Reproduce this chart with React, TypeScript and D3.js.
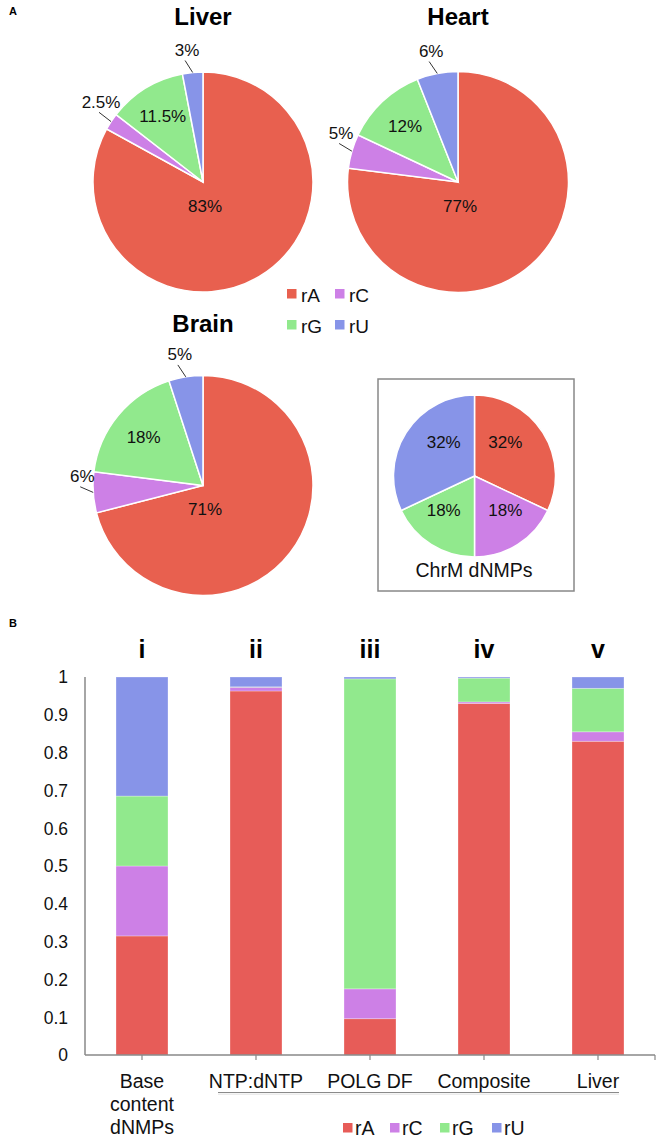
import React from "react";
import * as d3 from "d3";

// pie data (percent), order rA, rC, rG, rU
const bases = ["rA", "rC", "rG", "rU"];
const liverPct = [83, 2.5, 11.5, 3];
const heartPct = [77, 5, 12, 6];
const brainPct = [71, 6, 18, 5];
const chrmPct = [32, 18, 18, 32];

// stacked bars (fraction)
const barRoman = ["i", "ii", "iii", "iv", "v"];
const barLabels = ["Base\ncontent\ndNMPs", "NTP:dNTP", "POLG DF", "Composite", "Liver"];
const barA = [0.315, 0.963, 0.096, 0.93, 0.83];
const barC = [0.185, 0.01, 0.079, 0.004, 0.025];
const barG = [0.185, 0.001, 0.82, 0.063, 0.115];
const barU = [0.315, 0.026, 0.005, 0.003, 0.03];
const yTicks = [0, 0.1, 0.2, 0.3, 0.4, 0.5, 0.6, 0.7, 0.8, 0.9, 1];

const pieColors = ["#E8604F", "#CD80E6", "#91E98D", "#8794E8"];
const barColors = ["#E75C58", "#CD80E6", "#91E98D", "#8794E8"];
const FONT = "'Liberation Sans', Arial, Helvetica, sans-serif";

type PieProps = {
  values: number[];
  cx: number;
  cy: number;
  r: number;
  mode?: "normal" | "quadrant";
};

const Pie: React.FC<PieProps> = ({ values, cx, cy, r, mode = "normal" }) => {
  const arcs = d3.pie<number>().sort(null).value(d => d)(values);
  const arc = d3.arc<d3.PieArcDatum<number>>().innerRadius(0).outerRadius(r);
  const fs = 17;
  return (
    <g>
      <g transform={`translate(${cx},${cy})`}>
        {arcs.map((a, i) => (
          <path key={i} d={arc(a) || ""} fill={pieColors[i]} stroke="#fff" strokeWidth={1.5} />
        ))}
      </g>
      {arcs.map((a, i) => {
        const mid = (a.startAngle + a.endAngle) / 2;
        const s = Math.sin(mid), c = Math.cos(mid);
        const txt = `${a.data}%`;
        if (mode === "quadrant") {
          const lx = cx + Math.sign(s) * 0.38 * r;
          const ly = cy - Math.sign(c) * 0.42 * r;
          return (
            <text key={i} x={lx} y={ly + fs * 0.36} textAnchor="middle" fontSize={fs} fontFamily={FONT} fill="#111">{txt}</text>
          );
        }
        if (a.data < 10) {
          // small slice: outside label with a short leader
          const ex = cx + s * r, ey = cy - c * r;
          const tx = ex + s * 6 - 7, ty = ey - c * 6 - 6;
          return (
            <g key={i}>
              <line x1={ex} y1={ey} x2={tx} y2={ty} stroke="#333" strokeWidth={1} />
              <text x={tx + 2} y={ty - 4.5} textAnchor="middle" fontSize={fs} fontFamily={FONT} fill="#111">{txt}</text>
            </g>
          );
        }
        let lx: number, ly: number;
        if (a.data > 50) {
          lx = cx + 2;
          ly = cy + 0.215 * r;
        } else {
          lx = cx + s * 0.7 * r;
          ly = cy - c * 0.7 * r;
        }
        return (
          <text key={i} x={lx} y={ly + fs * 0.36} textAnchor="middle" fontSize={fs} fontFamily={FONT} fill="#111">{txt}</text>
        );
      })}
    </g>
  );
};

const App: React.FC = () => {
  // panel B scales
  const x = d3.scaleBand().domain(barLabels).range([85, 655]).paddingInner(0.544).paddingOuter(0.272);
  const y = d3.scaleLinear().domain([0, 1]).range([1055, 677]);
  const table = barLabels.map((cat, i) => ({ cat, rA: barA[i], rC: barC[i], rG: barG[i], rU: barU[i] }));
  const series = d3.stack<any>().keys(bases)(table);
  const bw = x.bandwidth();
  const center = (c: string) => (x(c) || 0) + bw / 2;
  const brX1 = (x("NTP:dNTP") || 0) - 12;
  const brX2 = (x("Liver") || 0) + bw - 5;

  return (
    <svg width={661} height={1142} style={{ position: "absolute", left: 0, top: 0, background: "#fff" }} fontFamily={FONT}>
      <rect width={661} height={1142} fill="#fff" />

      {/* Panel A */}
      <text x={9} y={15} fontSize={11} fontWeight="bold">A</text>
      <text x={203} y={25} textAnchor="middle" fontSize={24} fontWeight="bold">Liver</text>
      <text x={458} y={25} textAnchor="middle" fontSize={24} fontWeight="bold">Heart</text>
      <text x={203} y={332} textAnchor="middle" fontSize={24} fontWeight="bold">Brain</text>

      <Pie values={liverPct} cx={203} cy={182} r={110} />
      <Pie values={heartPct} cx={458} cy={182} r={110.5} />
      <Pie values={brainPct} cx={203} cy={485.5} r={110} />

      {/* legend between pies */}
      {bases.map((b, i) => {
        const lx = 287 + (i % 2) * 48;
        const ly = 289 + Math.floor(i / 2) * 31;
        return (
          <g key={b}>
            <rect x={lx} y={ly} width={9.5} height={9.5} fill={pieColors[i]} />
            <text x={lx + 14} y={ly + 12.5} fontSize={19} fill="#111">{b}</text>
          </g>
        );
      })}

      {/* ChrM box */}
      <rect x={378} y={379} width={196} height={212} fill="#fff" stroke="#888" strokeWidth={1.5} />
      <Pie values={chrmPct} cx={474.5} cy={476} r={81} mode="quadrant" />
      <text x={474} y={577} textAnchor="middle" fontSize={19.5} fill="#111">ChrM dNMPs</text>

      {/* Panel B */}
      <text x={9} y={627} fontSize={11} fontWeight="bold">B</text>
      {barLabels.map((c, i) => (
        <text key={c} x={center(c)} y={658} textAnchor="middle" fontSize={25} fontWeight="bold">{barRoman[i]}</text>
      ))}

      {series.map((s, k) => (
        <g key={s.key} fill={barColors[k]}>
          {s.map((d, i) => (
            <rect
              key={i}
              x={x(d.data.cat)}
              y={y(d[1])}
              width={bw}
              height={Math.max(0, y(d[0]) - y(d[1]))}
              stroke="#fff"
              strokeOpacity={0.35}
              strokeWidth={0.8}
            />
          ))}
        </g>
      ))}

      {/* axes */}
      <line x1={85} x2={85} y1={y(0)} y2={y(1)} stroke="#888" strokeWidth={1.5} />
      <line x1={85} x2={655} y1={y(0)} y2={y(0)} stroke="#888" strokeWidth={1.5} />
      {[...barLabels.map(center), 655].map((tx, i) => (
        <line key={i} x1={tx} x2={tx} y1={y(0)} y2={y(0) + 5} stroke="#888" strokeWidth={1.2} />
      ))}
      {yTicks.map(t => (
        <text key={t} x={68} y={y(t) + 6.3} textAnchor="end" fontSize={17.5} fill="#111">{String(t)}</text>
      ))}

      {barLabels.map(c => (
        <text key={c} textAnchor="middle" fontSize={19.5} fill="#111">
          {c.split("\n").map((ln, j) => (
            <tspan key={j} x={center(c)} y={1088 + j * 23}>{ln}</tspan>
          ))}
        </text>
      ))}

      {/* bracket line under ii-v */}
      <line x1={brX1} x2={brX2} y1={1094.2} y2={1094.2} stroke="#ececec" strokeWidth={1.5} />
      <line x1={brX1} x2={brX2} y1={1092.5} y2={1092.5} stroke="#8a8a8a" strokeWidth={1.2} />

      {/* bottom legend */}
      {bases.map((b, i) => {
        const lx = [343, 390, 440, 492][i];
        return (
          <g key={b}>
            <rect x={lx} y={1123} width={9.5} height={9.5} fill={barColors[i]} />
            <text x={lx + 12} y={1135} fontSize={19.5} fill="#111">{b}</text>
          </g>
        );
      })}
    </svg>
  );
};

export default App;
